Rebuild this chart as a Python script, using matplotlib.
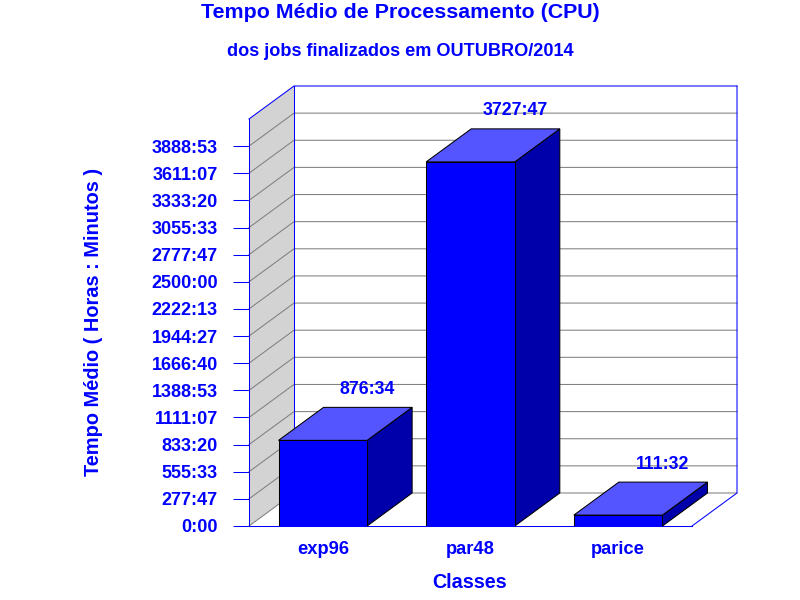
import matplotlib
matplotlib.use('Agg')
import matplotlib.pyplot as plt
from matplotlib.patches import Polygon

plt.rcParams['font.family'] = ['Liberation Sans', 'DejaVu Sans']
plt.rcParams['font.weight'] = 'bold'

classes = ['exp96', 'par48', 'parice']
tempos = ['876:34', '3727:47', '111:32']
tick_labels = ['0:00', '277:47', '555:33', '833:20', '1111:07', '1388:53', '1666:40',
               '1944:27', '2222:13', '2500:00', '2777:47', '3055:33', '3333:20',
               '3611:07', '3888:53']
grid_top = '4166:40'

BLUE = '#0000ff'
W, H = 800, 600
LW = 0.75  # 1 pixel


def horas(txt):
    h, m = txt.split(':')
    return int(h) + int(m) / 60


valores = [horas(t) for t in tempos]
ticks = [horas(t) for t in tick_labels]
ymax = horas(grid_top)

fig = plt.figure(figsize=(8, 6), dpi=100)
ax = fig.add_axes([249 / W, 1 - 526 / H, 443 / W, 407 / H])
ax.set_xlim(-0.5, 2.5)
ax.set_ylim(0, ymax)

# deslocamento da profundidade 3D, em unidades dos eixos
dx = 45 / (443 / 3)
dy = 33 / 407 * ymax
x0, x1 = -0.5, 2.5

# parede esquerda e parede do fundo
ax.add_patch(Polygon([(x0, 0), (x0 + dx, dy), (x0 + dx, ymax + dy), (x0, ymax)],
                     fc='#d3d3d3', ec='none', clip_on=False, zorder=1))
ax.add_patch(Polygon([(x0 + dx, dy), (x1 + dx, dy), (x1 + dx, ymax + dy), (x0 + dx, ymax + dy)],
                     fc='white', ec='none', clip_on=False, zorder=1.5))

for t in ticks:
    ax.plot([x0, x0 + dx, x1 + dx], [t, t + dy, t + dy], color='#808080', lw=LW,
            clip_on=False, zorder=2)

# bordas do piso e do topo
ax.plot([x0, x0 + dx, x1 + dx], [ymax, ymax + dy, ymax + dy], color=BLUE, lw=LW, clip_on=False, zorder=2.5)
ax.plot([x0 + dx, x0 + dx], [dy, ymax + dy], color=BLUE, lw=LW, clip_on=False, zorder=2.5)
ax.plot([x1, x1 + dx, x1 + dx], [0, dy, ymax + dy], color=BLUE, lw=LW, clip_on=False, zorder=2.5)

largura = 0.6
for i, v in enumerate(valores):
    e, d = i - largura / 2, i + largura / 2
    ax.add_patch(Polygon([(d, 0), (d + dx, dy), (d + dx, v + dy), (d, v)],
                         fc='#0000aa', ec='black', lw=LW, clip_on=False, zorder=3))
    ax.add_patch(Polygon([(e, v), (d, v), (d + dx, v + dy), (e + dx, v + dy)],
                         fc='#5555ff', ec='black', lw=LW, clip_on=False, zorder=3))
ax.bar(range(len(valores)), valores, largura, color=BLUE, ec='black', lw=LW, zorder=4)

for i, v in enumerate(valores):
    ax.annotate(tempos[i], xy=(i + largura / 2, v), xytext=(0, 51 * 0.72), textcoords='offset points',
                ha='center', va='center', color=BLUE, fontsize=12.8, fontweight='bold', zorder=5)

for s in ['top', 'right']:
    ax.spines[s].set_visible(False)
for s in ['left', 'bottom']:
    ax.spines[s].set_color(BLUE)
    ax.spines[s].set_linewidth(LW)
    ax.spines[s].set_zorder(2.6)

ax.set_yticks(ticks)
ax.set_yticklabels(tick_labels, fontsize=13, fontweight='bold', color=BLUE)
ax.tick_params(axis='y', length=11.5, width=LW, color=BLUE, pad=11)
ax.set_xticks(range(len(classes)))
ax.set_xticklabels(classes, fontsize=13.2, fontweight='bold', color=BLUE)
ax.tick_params(axis='x', length=0, pad=10.7)

fig.text(400 / W, 1 - 12 / H, 'Tempo Médio de Processamento (CPU)', ha='center', va='center',
         color=BLUE, fontsize=15.4, fontweight='bold')
fig.text(400 / W, 1 - 51 / H, 'dos jobs finalizados em OUTUBRO/2014', ha='center', va='center',
         color=BLUE, fontsize=13.1, fontweight='bold')
fig.text(470 / W, 1 - 582 / H, 'Classes', ha='center', va='center',
         color=BLUE, fontsize=14.2, fontweight='bold')
fig.text(94 / W, 1 - 322 / H, 'Tempo Médio ( Horas : Minutos )', ha='center', va='center', rotation=90,
         color=BLUE, fontsize=14.4, fontweight='bold')

fig.savefig('out.png', dpi=100)
